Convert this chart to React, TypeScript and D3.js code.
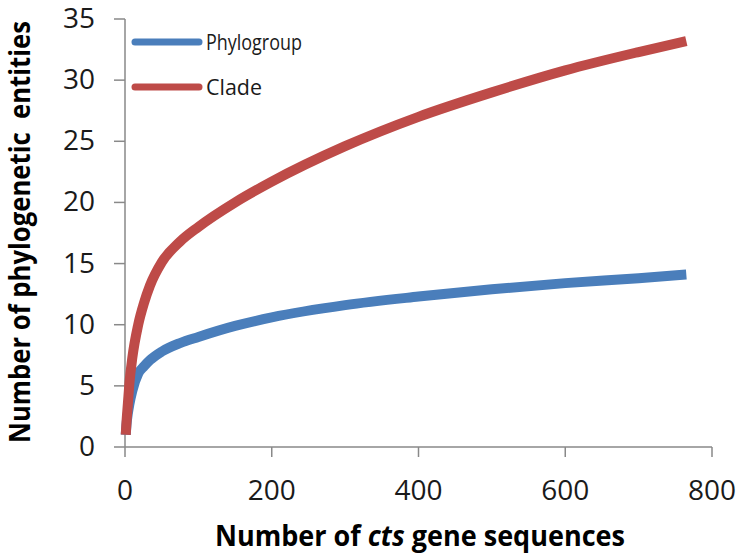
import React from "react";
import * as d3 from "d3";

const xValues = [1, 2, 4, 6, 10, 18, 26, 34, 50, 75, 100, 150, 200, 300, 400, 500, 600, 700, 765];
const phylogroupValues = [1, 1.8, 2.8, 3.5, 4.6, 6.0, 6.6, 7.1, 7.8, 8.5, 9.0, 9.9, 10.6, 11.6, 12.3, 12.9, 13.4, 13.8, 14.1];
const cladeValues = [1, 2.0, 3.6, 5.2, 7.3, 10.0, 11.8, 13.2, 15.1, 16.8, 18.0, 20.0, 21.7, 24.6, 27.0, 29.0, 30.8, 32.3, 33.2];
const xTicks = [0, 200, 400, 600, 800];
const yTicks = [0, 5, 10, 15, 20, 25, 30, 35];
const seriesNames = ["Phylogroup", "Clade"];
const seriesColors = ["#4A7EBB", "#BE4B48"];

const W = 743;
const H = 560;
const left = 125;
const right = 712;
const top = 19;
const bottom = 447;
const axisColor = "#898989";
const font = "'Open Sans', sans-serif";

export default function App() {
  const x = d3.scaleLinear().domain([0, 800]).range([left, right]);
  const y = d3.scaleLinear().domain([0, 35]).range([bottom, top]);
  const line = d3
    .line<[number, number]>()
    .x((d) => x(d[0]))
    .y((d) => y(d[1]))
    .curve(d3.curveMonotoneX);
  const series = [phylogroupValues, cladeValues].map((vals) =>
    xValues.map((xv, i) => [xv, vals[i]] as [number, number])
  );
  const legendY = [42, 87];
  const legendLen = [96, 56];

  return (
    <svg width={W} height={H} style={{ position: "absolute", left: 0, top: 0, background: "#fff" }}>
      <rect x={0} y={0} width={W} height={H} fill="#fff" />
      {/* axes */}
      <line x1={left} x2={left} y1={top} y2={bottom} stroke={axisColor} strokeWidth={1.5} />
      <line x1={left} x2={right} y1={bottom} y2={bottom} stroke={axisColor} strokeWidth={1.5} />
      {yTicks.map((t) => (
        <g key={"y" + t}>
          <line x1={left - 11} x2={left} y1={y(t)} y2={y(t)} stroke={axisColor} strokeWidth={1.5} />
          <text x={95} y={y(t) + 9} textAnchor="end" fontFamily={font} fontSize={28} fill="#1a1a1a">
            {t}
          </text>
        </g>
      ))}
      {xTicks.map((t) => (
        <g key={"x" + t}>
          <line x1={x(t)} x2={x(t)} y1={bottom} y2={bottom + 10} stroke={axisColor} strokeWidth={1.5} />
          <text x={x(t)} y={500} textAnchor="middle" fontFamily={font} fontSize={28} fill="#1a1a1a">
            {t}
          </text>
        </g>
      ))}
      {/* series */}
      {series.map((s, i) => (
        <path
          key={seriesNames[i]}
          d={line(s) || ""}
          fill="none"
          stroke={seriesColors[i]}
          strokeWidth={10}
          strokeLinejoin="round"
        />
      ))}
      {/* legend */}
      {seriesNames.map((n, i) => (
        <g key={"lg" + n}>
          <line x1={135} x2={199} y1={legendY[i]} y2={legendY[i]} stroke={seriesColors[i]} strokeWidth={7} strokeLinecap="round" />
          <text
            x={206}
            y={legendY[i] + 8}
            fontFamily={font}
            fontSize={22}
            fill="#1a1a1a"
            textLength={legendLen[i]}
            lengthAdjust="spacingAndGlyphs"
          >
            {n}
          </text>
        </g>
      ))}
      {/* axis titles */}
      <text
        x={420}
        y={546}
        textAnchor="middle"
        fontFamily={font}
        fontWeight="bold"
        fontSize={28}
        fill="#000"
        textLength={410}
        lengthAdjust="spacingAndGlyphs"
      >
        Number of <tspan fontStyle="italic">cts</tspan> gene sequences
      </text>
      <text
        transform={`translate(30, 232) rotate(-90)`}
        textAnchor="middle"
        fontFamily={font}
        fontWeight="bold"
        fontSize={28}
        fill="#000"
        textLength={422}
        lengthAdjust="spacingAndGlyphs"
        style={{ whiteSpace: "pre" }}
      >
        {"Number of phylogenetic  entities"}
      </text>
    </svg>
  );
}
